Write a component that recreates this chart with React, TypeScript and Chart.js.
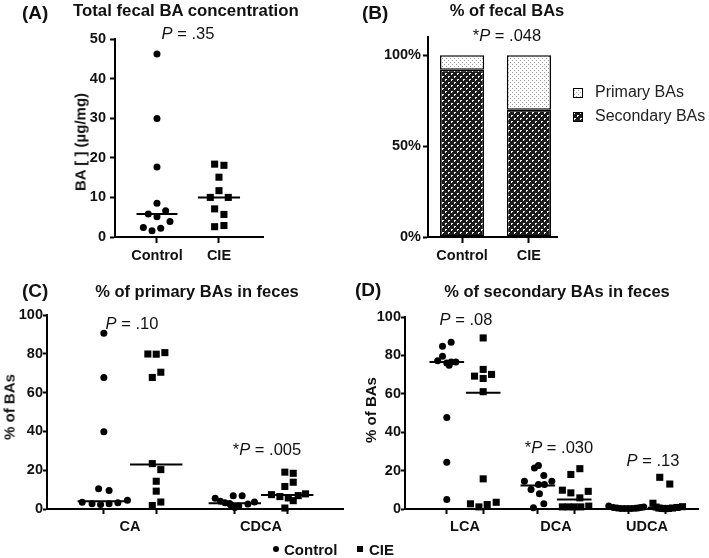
import React, { useEffect, useRef } from 'react';
import { Chart, registerables } from 'chart.js';

Chart.register(...registerables);

const FONT = "Arial, 'Liberation Sans', Helvetica, sans-serif";
const INK = '#111';

// ---------- Panel A: total fecal BA concentration (µg/mg)
const A_GROUPS = ['Control', 'CIE'];
const A_CONTROL = [46.2, 29.9, 17.7, 8.5, 5.8, 5.1, 6.6, 3.9, 2.4, 1.6, 2.2];
const A_CONTROL_JITTER = [0, 0, 0, 0, -0.14, 0, 0.14, 0.21, -0.22, -0.08, 0.06];
const A_CIE = [18.4, 18.1, 15.1, 11.7, 10.0, 10.0, 7.1, 5.7, 2.6, 2.9];
const A_CIE_JITTER = [-0.07, 0.08, 0, 0, -0.14, 0.15, -0.07, 0.08, -0.07, 0.08];
const A_MEDIANS = [5.8, 10.0];

// ---------- Panel B: % of fecal BAs
const B_GROUPS = ['Control', 'CIE'];
const B_SECONDARY = [92, 70];
const B_PRIMARY = [8, 30];
const B_Y_TICKS = [0, 50, 100];

// ---------- Panel C: % of primary BAs in feces
const C_ACIDS = ['CA', 'CDCA'];
const C_CA_CONTROL = [90.6, 67.8, 39.8, 10.4, 9.5, 3.5, 2.7, 2.3, 2.7, 3.2, 4.5];
const C_CA_CONTROL_JITTER = [0, 0, 0, -0.04, 0.04, -0.165, -0.09, -0.025, 0.04, 0.107, 0.18];
const C_CA_CIE = [79.9, 79.8, 80.6, 67.8, 70.5, 23.4, 20.3, 14.3, 9.2, 1.8, 3.6];
const C_CA_CIE_JITTER = [-0.064, 0, 0.066, -0.03, 0.035, -0.03, 0.035, 0, 0, -0.03, 0.035];
const C_CDCA_CONTROL = [5.5, 4.0, 3.2, 2.8, 6.8, 6.8, 0.8, 1.6, 2.0, 2.6, 3.6];
const C_CDCA_CONTROL_JITTER = [-0.15, -0.11, -0.075, -0.04, -0.012, 0.056, 0, 0.03, -0.03, 0.1, 0.15];
const C_CDCA_CIE = [19.0, 18.4, 13.8, 11.6, 7.4, 6.4, 5.7, 4.3, 7.8, 0.5, 6.9];
const C_CDCA_CIE_JITTER = [-0.018, 0.046, 0.046, -0.018, -0.12, -0.056, 0.008, 0.046, 0.14, -0.018, 0.084];
const C_MEDIANS_CONTROL = [4.0, 3.0];
const C_MEDIANS_CIE = [23.0, 7.2];

// ---------- Panel D: % of secondary BAs in feces
const D_ACIDS = ['LCA', 'DCA', 'UDCA'];
const D_LCA_CONTROL = [84.8, 86.9, 79.6, 77.2, 76.1, 76.5, 76.5, 74.9, 47.6, 24.3, 4.9];
const D_LCA_CONTROL_JITTER = [-0.047, 0.048, -0.047, -0.1, 0, 0.048, 0.1, 0.026, 0, 0, 0];
const D_LCA_CIE = [89.1, 72.7, 69.2, 68.0, 70.1, 61.1, 15.7, 2.7, 1.1, 2.3, 3.5];
const D_LCA_CIE_JITTER = [0, 0, -0.095, 0, 0.092, 0, 0, -0.14, -0.047, 0.044, 0.143];
const D_DCA_CONTROL = [21.4, 22.6, 17.4, 14.4, 10.1, 12.7, 12.7, 14.4, 7.9, 0.6, 2.7];
const D_DCA_CONTROL_JITTER = [-0.037, 0.007, 0.066, -0.147, -0.074, 0.007, 0.073, 0.154, 0.018, -0.048, 0.066];
const D_DCA_CIE = [18.0, 21.0, 9.8, 8.4, 9.2, 5.8, 1.1, 1.1, 1.1, 1.1, 1.5];
const D_DCA_CIE_JITTER = [-0.037, 0.062, -0.13, -0.037, 0.154, 0.062, -0.13, -0.066, 0, 0.073, 0.16];
const D_UDCA_CONTROL = [1.5, 0.8, 0.5, 0.3, 0.2, 0.2, 0.3, 0.4, 0.5, 0.8, 1.0];
const D_UDCA_CONTROL_JITTER = [-0.22, -0.17, -0.13, -0.09, -0.05, -0.01, 0.03, 0.07, 0.1, 0.13, 0.165];
const D_UDCA_CIE = [3.0, 16.5, 13.0, 1.0, 0.5, 0.3, 0.2, 0.3, 0.5, 0.8, 1.2];
const D_UDCA_CIE_JITTER = [-0.135, -0.06, 0.05, -0.1, -0.07, -0.035, 0, 0.035, 0.08, 0.13, 0.19];
const D_MEDIANS_CONTROL = [76.5, 12.2, 0.4];
const D_MEDIANS_CIE = [60.5, 5.0, 0.7];

const SPLIT = 0.2; // offset of Control / CIE columns around each acid

type Series = {
  values: number[][];
  jitter: number[][];
  positions: number[];
  medians: number[];
  halfWidth: number;
  pointStyle: 'circle' | 'rect';
  radius: number;
};
type XTick = { value: number; label: string; mark: boolean };
type Pad = { top: number; right: number; bottom: number; left: number };

const tickFont = { family: FONT, size: 14.5, weight: 'bold' as const };

function scatterConfig(o: {
  series: Series[];
  xTicks: XTick[];
  xMin: number;
  xMax: number;
  yMax: number;
  yStep: number;
  yWidth: number;
  xHeight: number;
  padding: Pad;
  yTickLen: number;
  yTickPad: number;
  xTickLen: number;
  xTickPad: number;
}) {
  const datasets: any[] = [];
  o.series.forEach((s) => {
    const pts: { x: number; y: number }[] = [];
    s.values.forEach((vals, g) =>
      vals.forEach((v, k) => pts.push({ x: s.positions[g] + s.jitter[g][k], y: v }))
    );
    datasets.push({
      data: pts,
      pointStyle: s.pointStyle,
      pointRadius: s.radius,
      pointBackgroundColor: '#000',
      backgroundColor: '#000',
      pointBorderWidth: 0,
      borderWidth: 0,
      clip: false,
    });
  });
  o.series.forEach((s) =>
    s.medians.forEach((m, g) =>
      datasets.push({
        data: [
          { x: s.positions[g] - s.halfWidth, y: m },
          { x: s.positions[g] + s.halfWidth, y: m },
        ],
        showLine: true,
        borderColor: '#000',
        borderWidth: 2,
        pointRadius: 0,
        clip: false,
      })
    )
  );
  const xt = [...o.xTicks].sort((a, b) => a.value - b.value);
  return {
    type: 'scatter',
    data: { datasets },
    options: {
      animation: false,
      responsive: false,
      devicePixelRatio: 1,
      events: [],
      layout: { padding: o.padding },
      plugins: { legend: { display: false }, tooltip: { enabled: false } },
      scales: {
        x: {
          type: 'linear',
          min: o.xMin,
          max: o.xMax,
          afterFit: (sc: any) => {
            sc.height = o.xHeight;
          },
          afterBuildTicks: (sc: any) => {
            sc.ticks = xt.map((t) => ({ value: t.value }));
          },
          border: { display: true, color: '#000', width: 2 },
          grid: {
            drawOnChartArea: false,
            drawTicks: true,
            tickLength: o.xTickLen,
            tickWidth: 2,
            tickColor: (ctx: any) => (xt[ctx.index] && xt[ctx.index].mark ? '#000' : 'rgba(0,0,0,0)'),
          },
          ticks: {
            autoSkip: false,
            maxRotation: 0,
            padding: o.xTickPad,
            color: INK,
            font: tickFont,
            callback: (_v: any, i: number) => (xt[i] ? xt[i].label : ''),
          },
        },
        y: {
          type: 'linear',
          min: 0,
          max: o.yMax,
          afterFit: (sc: any) => {
            sc.width = o.yWidth;
          },
          border: { display: true, color: '#000', width: 2 },
          grid: {
            drawOnChartArea: false,
            drawTicks: true,
            tickLength: o.yTickLen,
            tickWidth: 2,
            tickColor: '#000',
          },
          ticks: { stepSize: o.yStep, padding: o.yTickPad, color: INK, font: tickFont },
        },
      },
    },
  };
}

function makePattern(w: number, h: number, draw: (g: CanvasRenderingContext2D) => void) {
  const c = document.createElement('canvas');
  c.width = w;
  c.height = h;
  const g = c.getContext('2d')!;
  draw(g);
  return g.createPattern(c, 'repeat') as CanvasPattern;
}

function makeSecondaryPattern() {
  return makePattern(6, 6, (g) => {
    g.fillStyle = '#1b1b1b';
    g.fillRect(0, 0, 6, 6);
    g.fillStyle = '#f2f2f2';
    g.fillRect(1, 1, 2, 1);
    g.fillRect(1, 2, 1, 1);
    g.fillRect(4, 4, 2, 1);
    g.fillRect(4, 5, 1, 1);
  });
}

function makePrimaryPattern() {
  return makePattern(4, 4, (g) => {
    g.fillStyle = '#ffffff';
    g.fillRect(0, 0, 4, 4);
    g.fillStyle = '#9a9a9a';
    g.fillRect(0, 0, 1, 1);
    g.fillRect(2, 2, 1, 1);
  });
}

const sideLegend = {
  id: 'sideLegend',
  afterDraw(chart: any) {
    const { ctx, chartArea } = chart;
    const items = [...chart.data.datasets].reverse();
    ctx.save();
    ctx.font = `16px ${FONT}`;
    ctx.textBaseline = 'middle';
    items.forEach((ds: any, i: number) => {
      const x = chartArea.right + 21;
      const y = chartArea.top + 56 + i * 24;
      ctx.fillStyle = ds.backgroundColor;
      ctx.fillRect(x - 5, y - 5, 10, 10);
      ctx.strokeStyle = '#000';
      ctx.lineWidth = 1;
      ctx.strokeRect(x - 4.5, y - 4.5, 9, 9);
      ctx.fillStyle = '#222';
      ctx.fillText(ds.label, x + 17, y);
    });
    ctx.restore();
  },
};

function barConfig() {
  const sec = makeSecondaryPattern();
  const pri = makePrimaryPattern();
  const common = {
    borderColor: '#000',
    borderWidth: 1.5,
    borderSkipped: false,
    barPercentage: 0.66,
    categoryPercentage: 1,
  };
  return {
    type: 'bar',
    data: {
      datasets: [
        { label: 'Secondary BAs', data: B_SECONDARY.map((v, i) => ({ x: i, y: v })), backgroundColor: sec, ...common },
        { label: 'Primary BAs', data: B_PRIMARY.map((v, i) => ({ x: i, y: v })), backgroundColor: pri, ...common },
      ],
    },
    plugins: [sideLegend],
    options: {
      animation: false,
      responsive: false,
      devicePixelRatio: 1,
      events: [],
      layout: { padding: { top: 37, right: 152, bottom: 0, left: 0 } },
      plugins: { legend: { display: false }, tooltip: { enabled: false } },
      scales: {
        x: {
          type: 'linear',
          stacked: true,
          offset: false,
          min: -0.51,
          max: 1.42,
          afterFit: (sc: any) => {
            sc.height = 33;
          },
          afterBuildTicks: (sc: any) => {
            sc.ticks = B_GROUPS.map((_, i) => ({ value: i }));
          },
          border: { display: true, color: '#000', width: 2 },
          grid: { offset: false, drawOnChartArea: false, drawTicks: true, tickLength: 6, tickWidth: 2, tickColor: '#000' },
          ticks: {
            autoSkip: false,
            maxRotation: 0,
            padding: 4,
            color: INK,
            font: tickFont,
            callback: (_v: any, i: number) => B_GROUPS[i] ?? '',
          },
        },
        y: {
          type: 'linear',
          stacked: true,
          min: 0,
          max: 110,
          afterFit: (sc: any) => {
            sc.width = 68;
          },
          afterBuildTicks: (sc: any) => {
            sc.ticks = B_Y_TICKS.map((v) => ({ value: v }));
          },
          border: { display: true, color: '#000', width: 2 },
          grid: { drawOnChartArea: false, drawTicks: true, tickLength: 5, tickWidth: 2, tickColor: '#000' },
          ticks: { padding: 2, color: INK, font: tickFont, callback: (v: any) => `${v}%` },
        },
      },
    },
  };
}

function panelAConfig() {
  return scatterConfig({
    series: [
      { values: [A_CONTROL], jitter: [A_CONTROL_JITTER], positions: [0], medians: [A_MEDIANS[0]], halfWidth: 0.33, pointStyle: 'circle', radius: 3.5 },
      { values: [A_CIE], jitter: [A_CIE_JITTER], positions: [1], medians: [A_MEDIANS[1]], halfWidth: 0.34, pointStyle: 'rect', radius: 5 },
    ],
    xTicks: A_GROUPS.map((g, i) => ({ value: i, label: g, mark: true })),
    xMin: -0.677,
    xMax: 1.71,
    yMax: 50,
    yStep: 10,
    yWidth: 115,
    xHeight: 33,
    padding: { top: 39, right: 27, bottom: 0, left: 0 },
    yTickLen: 5,
    yTickPad: 4,
    xTickLen: 6,
    xTickPad: 4,
  });
}

function groupTicks(groups: string[]): XTick[] {
  return groups.flatMap((g, i) => [
    { value: i - SPLIT, label: '', mark: true },
    { value: i, label: g, mark: false },
    { value: i + SPLIT, label: '', mark: true },
  ]);
}

function panelCConfig() {
  return scatterConfig({
    series: [
      {
        values: [C_CA_CONTROL, C_CDCA_CONTROL],
        jitter: [C_CA_CONTROL_JITTER, C_CDCA_CONTROL_JITTER],
        positions: C_ACIDS.map((_, i) => i - SPLIT),
        medians: C_MEDIANS_CONTROL,
        halfWidth: 0.2,
        pointStyle: 'circle',
        radius: 3.5,
      },
      {
        values: [C_CA_CIE, C_CDCA_CIE],
        jitter: [C_CA_CIE_JITTER, C_CDCA_CIE_JITTER],
        positions: C_ACIDS.map((_, i) => i + SPLIT),
        medians: C_MEDIANS_CIE,
        halfWidth: 0.2,
        pointStyle: 'rect',
        radius: 5,
      },
    ],
    xTicks: groupTicks(C_ACIDS),
    xMin: -0.634,
    xMax: 1.626,
    yMax: 100,
    yStep: 20,
    yWidth: 47,
    xHeight: 49,
    padding: { top: 35, right: 12, bottom: 0, left: 0 },
    yTickLen: 4,
    yTickPad: 0,
    xTickLen: 5,
    xTickPad: 4,
  });
}

function panelDConfig() {
  return scatterConfig({
    series: [
      {
        values: [D_LCA_CONTROL, D_DCA_CONTROL, D_UDCA_CONTROL],
        jitter: [D_LCA_CONTROL_JITTER, D_DCA_CONTROL_JITTER, D_UDCA_CONTROL_JITTER],
        positions: D_ACIDS.map((_, i) => i - SPLIT),
        medians: D_MEDIANS_CONTROL,
        halfWidth: 0.19,
        pointStyle: 'circle',
        radius: 3.5,
      },
      {
        values: [D_LCA_CIE, D_DCA_CIE, D_UDCA_CIE],
        jitter: [D_LCA_CIE_JITTER, D_DCA_CIE_JITTER, D_UDCA_CIE_JITTER],
        positions: D_ACIDS.map((_, i) => i + SPLIT),
        medians: D_MEDIANS_CIE,
        halfWidth: 0.19,
        pointStyle: 'rect',
        radius: 5,
      },
    ],
    xTicks: groupTicks(D_ACIDS),
    xMin: -0.659,
    xMax: 2.56,
    yMax: 100,
    yStep: 20,
    yWidth: 50,
    xHeight: 49,
    padding: { top: 37, right: 11, bottom: 0, left: 0 },
    yTickLen: 4,
    yTickPad: 0,
    xTickLen: 5,
    xTickPad: 4,
  });
}

function ChartCanvas(props: { left: number; top: number; width: number; height: number; build: () => any }) {
  const ref = useRef<HTMLCanvasElement | null>(null);
  useEffect(() => {
    if (!ref.current) return;
    const chart = new Chart(ref.current, props.build());
    return () => chart.destroy();
  }, []);
  return (
    <canvas
      ref={ref}
      width={props.width}
      height={props.height}
      style={{ position: 'absolute', left: props.left, top: props.top, width: props.width, height: props.height }}
    />
  );
}

function Txt(props: {
  x: number;
  y: number;
  size?: number;
  bold?: boolean;
  align?: 'left' | 'center';
  rotate?: boolean;
  children: React.ReactNode;
}) {
  const { x, y, size = 16.5, bold = false, align = 'center', rotate = false } = props;
  const transform = rotate
    ? 'translate(-50%, -50%) rotate(-90deg)'
    : align === 'center'
    ? 'translate(-50%, -50%)'
    : 'translate(0, -50%)';
  return (
    <div
      style={{
        position: 'absolute',
        left: x,
        top: y,
        fontFamily: FONT,
        fontSize: size,
        fontWeight: bold ? 700 : 400,
        lineHeight: 1,
        whiteSpace: 'nowrap',
        color: INK,
        transform,
      }}
    >
      {props.children}
    </div>
  );
}

function PVal({ x, y, star, value }: { x: number; y: number; star?: boolean; value: string }) {
  return (
    <Txt x={x} y={y} size={16.5}>
      {star ? '*' : ''}
      <i>P</i> = {value}
    </Txt>
  );
}

export default function App() {
  return (
    <div style={{ position: 'absolute', left: 0, top: 0, width: 709, height: 558, background: '#fff', overflow: 'hidden' }}>
      <ChartCanvas left={0} top={0} width={290} height={270} build={panelAConfig} />
      <ChartCanvas left={360} top={0} width={349} height={270} build={barConfig} />
      <ChartCanvas left={0} top={280} width={355} height={278} build={panelCConfig} />
      <ChartCanvas left={355} top={280} width={354} height={278} build={panelDConfig} />

      {/* Panel A */}
      <Txt x={22} y={12} size={19} bold align="left">(A)</Txt>
      <Txt x={73} y={11} size={16.8} bold align="left">Total fecal BA concentration</Txt>
      <PVal x={188} y={33} value=".35" />
      <Txt x={80} y={142} size={15} bold rotate>BA [ ] (µg/mg)</Txt>

      {/* Panel B */}
      <Txt x={362} y={12} size={19} bold align="left">(B)</Txt>
      <Txt x={507} y={10} size={16.5} bold>% of fecal BAs</Txt>
      <PVal x={507} y={35} star value=".048" />

      {/* Panel C */}
      <Txt x={22} y={290} size={19} bold align="left">(C)</Txt>
      <Txt x={197} y={291} size={16.5} bold>% of primary BAs in feces</Txt>
      <Txt x={9} y={407} size={15} bold rotate>% of BAs</Txt>
      <PVal x={132} y={323} value=".10" />
      <PVal x={267} y={449} star value=".005" />

      {/* Panel D */}
      <Txt x={355} y={289} size={19} bold align="left">(D)</Txt>
      <Txt x={557} y={291} size={16.5} bold>% of secondary BAs in feces</Txt>
      <Txt x={370} y={410} size={15} bold rotate>% of BAs</Txt>
      <PVal x={466} y={319} value=".08" />
      <PVal x={559} y={447} star value=".030" />
      <PVal x={653} y={460} value=".13" />

      {/* shared legend */}
      <div style={{ position: 'absolute', left: 273, top: 546, width: 6, height: 6, borderRadius: 3, background: '#000' }} />
      <Txt x={284} y={549} size={15} bold align="left">Control</Txt>
      <div style={{ position: 'absolute', left: 357, top: 546, width: 6, height: 6, background: '#000' }} />
      <Txt x={369} y={549} size={15} bold align="left">CIE</Txt>
    </div>
  );
}
